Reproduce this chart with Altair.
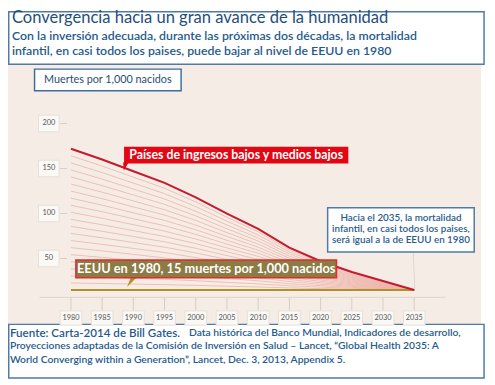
import altair as alt
import pandas as pd

# ---------------- data ----------------
years = [1980, 1985, 1990, 1995, 2000, 2005, 2010, 2015, 2020, 2025, 2030, 2035]
low_income = [172, 160, 147, 134, 118, 100, 83, 62, 47, 35, 25, 15]
us_1980_level = 15
fan_count = 20
y_ticks = [50, 100, 150, 200]

title = "Convergencia hacia un gran avance de la humanidad"
subtitle = ["Con la inversión adecuada, durante las próximas dos décadas, la mortalidad",
            "infantil, en casi todos los paises, puede bajar al nivel de EEUU en 1980"]
unit_label = "Muertes por 1,000 nacidos"
red_label = "Países de ingresos bajos y medios bajos"
gold_label = "EEUU en 1980, 15 muertes por 1,000 nacidos"
callout = ["Hacia el 2035, la mortalidad",
           "infantil, en casi todos los paises,",
           "será igual a la de EEUU en 1980"]
source_head = "Fuente: Carta-2014 de Bill Gates."
source_rest = "Data histórica del Banco Mundial, Indicadores de desarrollo,"
source_lines = ["Proyecciones adaptadas de la Comisión de Inversión en Salud – Lancet, “Global Health 2035: A",
                "World Converging within a Generation”, Lancet, Dec. 3, 2013, Appendix 5."]

FONT = "Lato"
BLUE_TXT = "#1f4e79"
BLUE_BOX = "#4f7aa6"

series = pd.DataFrame({"year": years, "deaths": low_income})
us = pd.DataFrame({"year": years, "deaths": [us_1980_level] * len(years)})
xt = pd.DataFrame({"year": years, "label": [str(y) for y in years]})
yt = pd.DataFrame({"deaths": y_ticks, "label": [str(v) for v in y_ticks]})

xs = alt.Scale(domain=[1980, 2035], range=[64, 413], nice=False, zero=False)
ys = alt.Scale(domain=[0, 200], range=[297.3, 114.3], nice=False, zero=False)
X = alt.X("year:Q", scale=xs, axis=None)
Y = alt.Y("deaths:Q", scale=ys, axis=None)

one = pd.DataFrame({"a": [0]})


def rect(x, y, x2, y2, fill, stroke=None, sw=1.5):
    kw = dict(fill=fill)
    if stroke:
        kw.update(stroke=stroke, strokeWidth=sw)
    return alt.Chart(one).mark_rect(**kw).encode(
        x=alt.value(x), y=alt.value(y), x2=alt.value(x2), y2=alt.value(y2))


def text(t, x, y, size, color=BLUE_TXT, align="left", weight="normal"):
    return alt.Chart(pd.DataFrame({"t": [t]})).mark_text(
        align=align, baseline="middle", font=FONT, fontSize=size,
        color=color, fontWeight=weight).encode(
        x=alt.value(x), y=alt.value(y), text="t:N")


def tri(path, x, y, size, fill):
    return alt.Chart(one).mark_point(shape=path, size=size, filled=True,
                                     fill=fill, opacity=1, strokeWidth=0).encode(
        x=alt.value(x), y=alt.value(y))


layers = []
# backgrounds
layers.append(rect(0, 54, 481, 319, "#f5ede5"))
layers.append(rect(0.75, 0.75, 484, 54, "white", BLUE_BOX))
layers.append(rect(0.75, 318.5, 484, 373, "white", BLUE_BOX))

# fan lines between the two series
fan = alt.Chart(series).transform_calculate(
    k=f"sequence(1, {fan_count})"
).transform_flatten(["k"]).transform_calculate(
    v=f"{us_1980_level} + (datum.deaths - {us_1980_level}) * datum.k / {fan_count}"
).mark_line(color="#ecb3a8", strokeWidth=0.8).encode(
    x=X, y=alt.Y("v:Q", scale=ys, axis=None), detail="k:N")
layers.append(fan)

layers.append(alt.Chart(us).mark_line(color="#b18f2a", strokeWidth=2.2).encode(x=X, y=Y))
layers.append(alt.Chart(series).mark_line(color="#c41a2e", strokeWidth=2).encode(x=X, y=Y))

# axes
layers.append(alt.Chart(one).mark_rule(color="#dcd4cb", strokeWidth=1).encode(
    x=alt.value(32), x2=alt.value(445), y=alt.value(291)))
layers.append(alt.Chart(xt).mark_rule(color="#d6cec5", strokeWidth=1).encode(
    x=X, y=alt.value(291), y2=alt.value(305)))
layers.append(alt.Chart(xt).mark_point(shape="M-1,-0.66H1V0.66H-1Z", size=484, filled=True,
                                       fill="#fbf9f6", stroke="#e6dfd7", strokeWidth=1,
                                       opacity=1).encode(x=X, y=alt.value(312)))
layers.append(alt.Chart(xt).mark_text(font=FONT, fontSize=7.5, color="#555555",
                                      baseline="middle").encode(
    x=X, y=alt.value(312), text="label:N"))
layers.append(alt.Chart(yt).mark_rule(color="#d6cec5", strokeWidth=1).encode(
    y=Y, x=alt.value(53), x2=alt.value(60)))
layers.append(alt.Chart(yt).mark_point(shape="M-1,-0.8H1V0.8H-1Z", size=441, filled=True,
                                       fill="#fbf9f6", stroke="#e6dfd7", strokeWidth=1,
                                       opacity=1).encode(y=Y, x=alt.value(41.5)))
layers.append(alt.Chart(yt).mark_text(font=FONT, fontSize=7.5, color="#555555",
                                      baseline="middle").encode(
    y=Y, x=alt.value(41.5), text="label:N"))

# title texts
layers.append(text(title, 4, 7.5, 16.8))
layers.append(text(subtitle[0], 4, 25, 12.5, color="#1f5a8c", weight=600))
layers.append(text(subtitle[1], 4, 40.5, 12.5, color="#1f5a8c", weight=600))

# unit box
layers.append(rect(27, 59, 176, 81, "white", "#3f6d99"))
layers.append(text(unit_label, 101.5, 70, 11, align="center"))

# red label
layers.append(tri("M-1,-1L0.4,-1L-0.8,1Z", 121, 158, 64, "#e30613"))
layers.append(rect(118, 138, 346, 155, "#e30613"))
layers.append(text(red_label, 232, 146.5, 12.5, color="white", align="center", weight="bold"))

# gold label
layers.append(tri("M-0.2,-1L1,-1L-1,1Z", 126, 275.5, 100, "#b18f2a"))
layers.append(rect(69, 253, 334, 271, "#8b7b45", "#e32b2b"))
layers.append(text(gold_label, 201.5, 262, 13, color="white", align="center", weight="bold"))

# callout
layers.append(alt.Chart(one).mark_rule(color="#ddd6ce", strokeWidth=1).encode(
    x=alt.value(412), y=alt.value(245), x2=alt.value(413.5), y2=alt.value(282)))
layers.append(rect(325, 200, 474, 245, "white", BLUE_BOX))
for i, line in enumerate(callout):
    layers.append(text(line, 399.5, 210.5 + i * 11.3, 10, color="#2a5c8c",
                       align="center", weight=600))

# source
layers.append(text(source_head, 2, 327, 11.8, color="#1f5a8c", weight=600))
layers.append(text(source_rest, 184, 327.5, 10.5, color="#1f5a8c", weight=600))
layers.append(text(source_lines[0], 2, 341, 10.5, color="#1f5a8c", weight=600))
layers.append(text(source_lines[1], 2, 354.5, 10.5, color="#1f5a8c", weight=600))

chart = alt.layer(*layers).properties(
    width=487, height=377, padding=0,
    autosize=alt.AutoSizeParams(type="none"),
    background="white"
).configure_view(stroke=None)

chart.save("out.html", embed_options={"renderer": "svg", "actions": False})
